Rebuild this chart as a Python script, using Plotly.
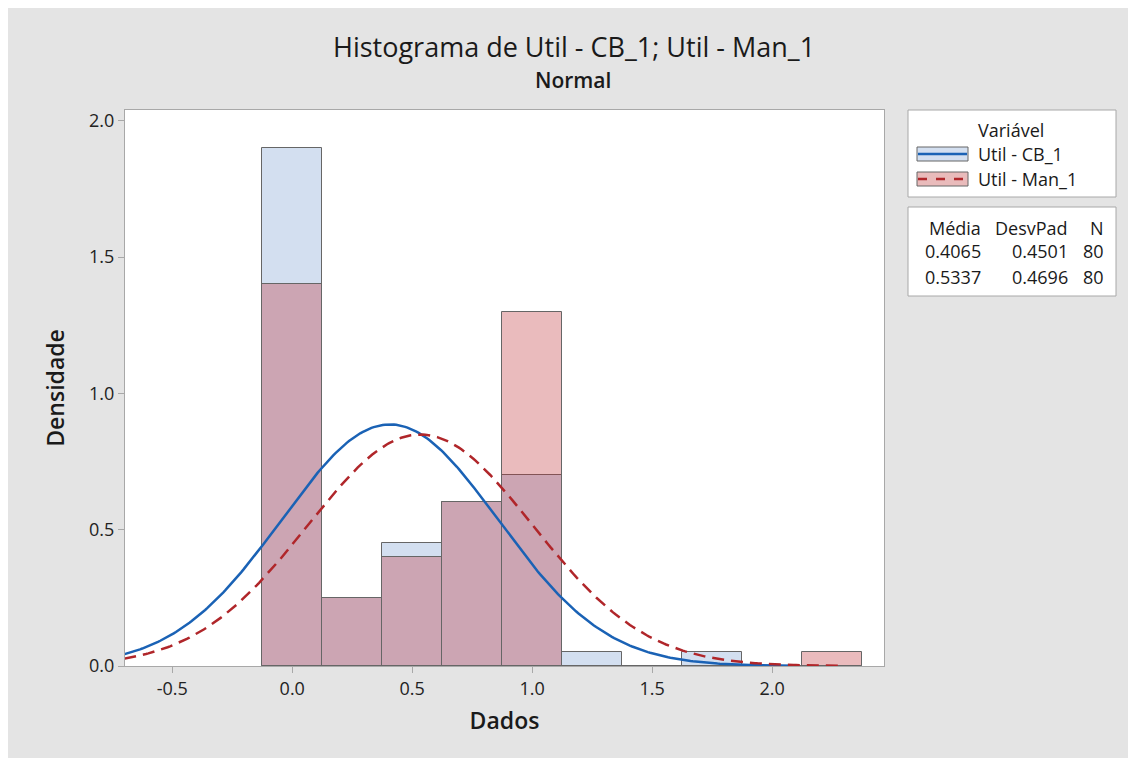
import numpy as np
import plotly.graph_objects as go

# ---------------- data ----------------
bin_centers = [0.0, 0.25, 0.5, 0.75, 1.0, 1.25, 1.5, 1.75, 2.0, 2.25]
dens_cb = [1.9, 0.25, 0.45, 0.6, 0.7, 0.05, 0.0, 0.05, 0.0, 0.0]
dens_man = [1.4, 0.25, 0.4, 0.6, 1.3, 0.0, 0.0, 0.0, 0.0, 0.05]
bin_width = 0.25

series_names = ["Util - CB_1", "Util - Man_1"]
means = [0.4065, 0.5337]
stdevs = [0.4501, 0.4696]
counts = [80, 80]
curve_end = [2.1, 2.3]

x_ticks = [-0.5, 0.0, 0.5, 1.0, 1.5, 2.0]
y_ticks = [0.0, 0.5, 1.0, 1.5, 2.0]

# ---------------- layout geometry (screen pixels; page body adds 8px offset) ----------------
W, H = 1136, 758
OFF = 8
SL, SR, ST, SB = 125, 884, 110, 666  # plot area in screen pixels
PL, PR, PT, PB = SL - OFF, SR - OFF, ST - OFF, SB - OFF


def px(xs):
    return (xs - SL) / (SR - SL)


def py(ys):
    return (SB - ys) / (SB - ST)


FONT = "Open Sans"
BLUE = "#1a62b5"
RED = "#b0262a"
GRAY_LINE = "#666666"
TXT = "#1a1a1a"
LEG = 18

fig = go.Figure()

fig.add_trace(go.Bar(
    x=bin_centers, y=dens_cb, width=bin_width, name=series_names[0],
    marker=dict(color="#d3dff0", line=dict(color=GRAY_LINE, width=1)),
    showlegend=False,
))
fig.add_trace(go.Bar(
    x=bin_centers, y=dens_man, width=bin_width, name=series_names[1],
    marker=dict(color="rgba(190,45,50,0.32)", line=dict(color=GRAY_LINE, width=1)),
    showlegend=False,
))

for m, s, xe, col, dash in zip(means, stdevs, curve_end, [BLUE, RED], ["solid", "12px,7px"]):
    xs = np.linspace(-0.7, xe, 300)
    ys = np.exp(-0.5 * ((xs - m) / s) ** 2) / (s * np.sqrt(2 * np.pi))
    fig.add_trace(go.Scatter(x=xs, y=ys, mode="lines",
                             line=dict(color=col, width=2.5, dash=dash),
                             showlegend=False, hoverinfo="skip"))

shapes = []
annotations = []

# Title
annotations.append(dict(text="Histograma de Util - CB_1; Util - Man_1", xref="paper", yref="paper",
                        x=px(574), y=py(46), xanchor="center", yanchor="middle", showarrow=False,
                        borderpad=0, font=dict(family=FONT, size=27, color=TXT)))
annotations.append(dict(text="Normal", xref="paper", yref="paper",
                        x=px(573), y=py(80), xanchor="center", yanchor="middle", showarrow=False,
                        borderpad=0, font=dict(family=FONT, size=21, color=TXT, weight=600)))

# Legend box 1
shapes.append(dict(type="rect", xref="paper", yref="paper",
                   x0=px(908), x1=px(1116), y0=py(197), y1=py(110),
                   fillcolor="white", line=dict(color="#a8a8a8", width=1)))
annotations.append(dict(text="Variável", xref="paper", yref="paper",
                        x=px(1011), y=py(130), xanchor="center", yanchor="middle", showarrow=False,
                        font=dict(family=FONT, size=LEG, color=TXT)))
for i, (nm, fill, col, dash) in enumerate(zip(series_names, ["#d3dff0", "#e9bbbb"], [BLUE, RED], ["solid", "dash"])):
    yc = 154 + i * 25
    shapes.append(dict(type="rect", xref="paper", yref="paper",
                       x0=px(917), x1=px(968), y0=py(yc + 7), y1=py(yc - 7),
                       fillcolor=fill, line=dict(color=GRAY_LINE, width=1)))
    shapes.append(dict(type="line", xref="paper", yref="paper",
                       x0=px(918), x1=px(967), y0=py(yc), y1=py(yc),
                       line=dict(color=col, width=2.5, dash=dash)))
    annotations.append(dict(text=nm, xref="paper", yref="paper",
                            x=px(976), y=py(yc), xanchor="left", yanchor="middle", showarrow=False,
                            font=dict(family=FONT, size=LEG, color=TXT)))

# Legend box 2 (stats table)
shapes.append(dict(type="rect", xref="paper", yref="paper",
                   x0=px(908), x1=px(1116), y0=py(296), y1=py(207),
                   fillcolor="white", line=dict(color="#a8a8a8", width=1)))
cols_x = [983, 1070, 1106]
headers = ["Média", "DesvPad", "N"]
for cx, h in zip(cols_x, headers):
    annotations.append(dict(text=h, xref="paper", yref="paper",
                            x=px(cx), y=py(228), xanchor="right", yanchor="middle", showarrow=False,
                            font=dict(family=FONT, size=LEG, color=TXT)))
for r, (m, s, n) in enumerate(zip(means, stdevs, counts)):
    yr = 251 + r * 26
    for cx, v in zip(cols_x, [f"{m:.4f}", f"{s:.4f}", str(n)]):
        annotations.append(dict(text=v, xref="paper", yref="paper",
                                x=px(cx), y=py(yr), xanchor="right", yanchor="middle", showarrow=False,
                                font=dict(family=FONT, size=LEG, color=TXT)))

axis_common = dict(showline=True, linecolor="#a8a8a8", linewidth=1, mirror=True,
                   ticks="outside", ticklen=6, tickcolor="#a8a8a8", showgrid=False,
                   zeroline=False, tickfont=dict(family=FONT, size=18, color="#222222"))

fig.update_layout(
    width=W, height=H,
    margin=dict(l=PL, r=W - PR, t=PT, b=H - PB, autoexpand=False),
    paper_bgcolor="#e4e4e4", plot_bgcolor="white",
    barmode="overlay", bargap=0,
    showlegend=False,
    shapes=shapes, annotations=annotations,
    xaxis=dict(range=[-0.697, 2.466], tickvals=x_ticks, ticktext=[f"{v:.1f}" for v in x_ticks],
               title=dict(text="Dados", font=dict(family=FONT, size=23, color=TXT, weight=600), standoff=14),
               **axis_common),
    yaxis=dict(range=[0, 2.04], tickvals=y_ticks, ticktext=[f"{v:.1f}" for v in y_ticks],
               title=dict(text="Densidade", font=dict(family=FONT, size=23, color=TXT, weight=600), standoff=18),
               **axis_common),
)

fig.write_html("out.html")
